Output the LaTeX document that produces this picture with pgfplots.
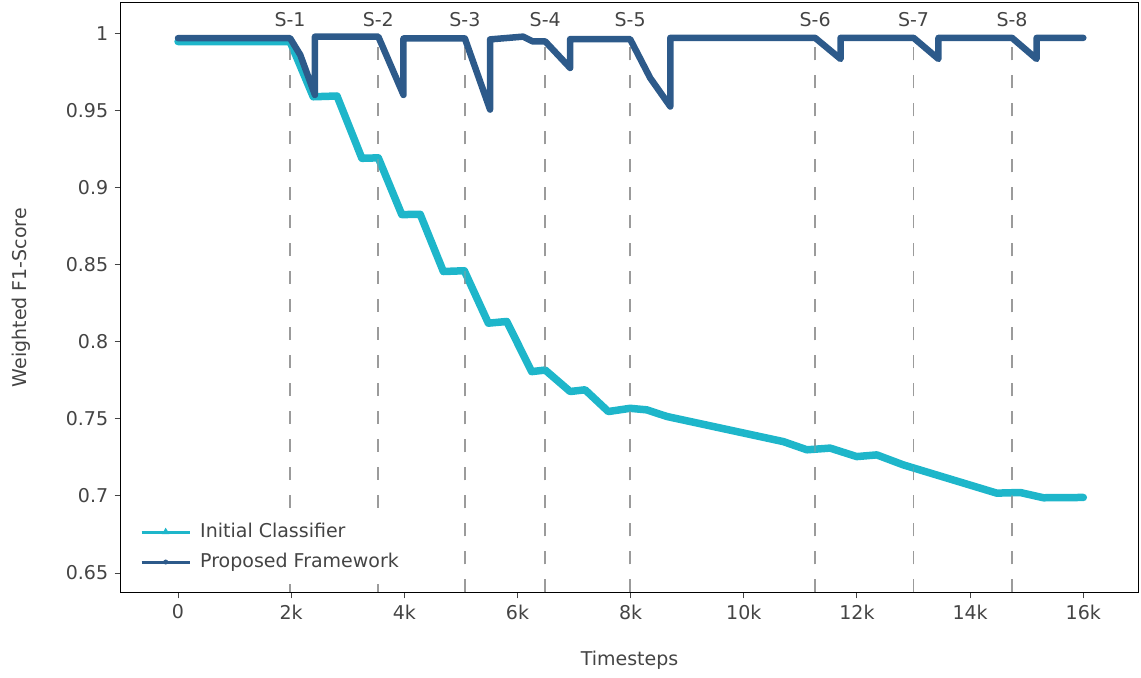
\documentclass[border=0pt]{standalone}
\usepackage{pgfplots}
\pgfplotsset{compat=1.18}
\usepackage{fontspec}
\setmainfont{DejaVu Sans}

\definecolor{icl}{RGB}{30,182,202}
\definecolor{pfw}{RGB}{45,90,138}
\definecolor{txt}{RGB}{68,68,68}
\definecolor{refl}{RGB}{155,155,155}

\begin{document}
\fontsize{19}{23}\selectfont
\begin{tikzpicture}
\begin{axis}[
  name=ax,
  scale only axis,
  width=1017.6pt, height=589.6pt,
  xmin=-1013, xmax=16972,
  ymin=0.6375, ymax=1.0198,
  axis line style={black, line width=1.3pt},
  scaled x ticks=false, scaled y ticks=false,
  xtick={0,2000,4000,6000,8000,10000,12000,14000,16000},
  xticklabels={0,2k,4k,6k,8k,10k,12k,14k,16k},
  ytick={0.65,0.7,0.75,0.8,0.85,0.9,0.95,1},
  yticklabels={0.65,0.7,0.75,0.8,0.85,0.9,0.95,1},
  tick align=outside, xtick pos=bottom, ytick pos=left,
  major tick length=6pt,
  tick style={txt, line width=1pt},
  ticklabel style={txt, font=\fontsize{19}{23}\selectfont},
  /pgf/number format/assume math mode=true,
  legend style={draw=none, fill=white, at={(rel axis cs:0.0111,0.0768)}, anchor=west,
    inner xsep=8pt, inner ysep=12pt, row sep=12pt, column sep=9pt,
    nodes={inner sep=0pt, text height=14pt, text depth=4pt, text=txt},
    font=\fontsize{19}{23}\selectfont},
  legend cell align=left,
  legend image code/.code={\draw[mark repeat=2,mark phase=2,#1] plot coordinates {(0pt,0pt)(24pt,0pt)(48pt,0pt)};},
  mshift/.style={refl, line width=1.8pt, dash pattern=on 13pt off 15pt, forget plot},
]

% legend samples
\addlegendimage{icl, line width=3pt, mark=triangle*, mark size=3.8pt, mark options={solid, fill=icl, draw=icl, line width=0.5pt}}
\addlegendentry{Initial Classifier}
\addlegendimage{pfw, line width=3pt, mark=*, mark size=2.2pt, mark options={solid, fill=pfw, draw=pfw, line width=0.5pt}}
\addlegendentry{Proposed Framework}

% scenario shift markers (the first two stop above the legend box)
\addplot[mshift] coordinates {(1980,0.6922) (1980,0.9925)};
\addplot[mshift] coordinates {(1980,0.6375) (1980,0.6430)};
\addplot[mshift] coordinates {(3540,0.6922) (3540,0.9925)};
\addplot[mshift] coordinates {(3540,0.6375) (3540,0.6430)};
\pgfplotsinvokeforeach{5070,6490,7990,11260,13000,14740}{
  \addplot[mshift] coordinates {(#1,0.6375) (#1,0.9925)};
}

% Initial Classifier
\addplot[icl, line width=7.5pt, line join=round, line cap=round, forget plot] coordinates {
  (0,0.9946) (1980,0.9946) (2390,0.9588) (2810,0.9593)
  (3250,0.9189) (3540,0.9192) (3955,0.8824) (4280,0.8826)
  (4690,0.8455) (5060,0.8460) (5485,0.8120) (5810,0.8131)
  (6250,0.7806) (6490,0.7816) (6930,0.7677) (7195,0.7688)
  (7605,0.7547) (7990,0.7568) (8285,0.7558) (8640,0.7515)
  (10700,0.7352) (11115,0.7299) (11525,0.7310) (11995,0.7255)
  (12350,0.7266) (12820,0.7201) (14470,0.7018) (14885,0.7022)
  (15295,0.6988) (16000,0.6990)
};

% Proposed Framework
\addplot[pfw, line width=6.5pt, line join=round, line cap=round, forget plot] coordinates {
  (0,0.9968) (1980,0.9968) (2160,0.9860) (2420,0.9600) (2420,0.9978)
  (3540,0.9978) (3985,0.9600) (3985,0.9966)
  (5070,0.9966) (5515,0.9505) (5515,0.9960) (6100,0.9978) (6270,0.9947) (6490,0.9947)
  (6930,0.9775) (6930,0.9962)
  (7990,0.9962) (8345,0.9710) (8700,0.9525) (8700,0.9970)
  (11260,0.9970) (11710,0.9833) (11710,0.9970)
  (13000,0.9970) (13440,0.9833) (13440,0.9970)
  (14740,0.9970) (15175,0.9833) (15175,0.9970) (16000,0.9970)
};

% faint overlay so the markers stay visible across the curves
\pgfplotsinvokeforeach{5070,6490,7990,11260,13000,14740}{
  \addplot[mshift, opacity=0.4] coordinates {(#1,0.6375) (#1,0.9900)};
}
\pgfplotsinvokeforeach{1980,3540}{
  \addplot[mshift, opacity=0.4] coordinates {(#1,0.6922) (#1,0.9900)};
}

\node[txt, inner sep=0pt] at (axis cs:1980,1.0086) {S-1};
\node[txt, inner sep=0pt] at (axis cs:3540,1.0086) {S-2};
\node[txt, inner sep=0pt] at (axis cs:5070,1.0086) {S-3};
\node[txt, inner sep=0pt] at (axis cs:6490,1.0086) {S-4};
\node[txt, inner sep=0pt] at (axis cs:7990,1.0086) {S-5};
\node[txt, inner sep=0pt] at (axis cs:11260,1.0086) {S-6};
\node[txt, inner sep=0pt] at (axis cs:13000,1.0086) {S-7};
\node[txt, inner sep=0pt] at (axis cs:14740,1.0086) {S-8};
\end{axis}

\node[txt, inner sep=0pt] at ([yshift=-67.7pt]ax.south) {Timesteps};
\node[txt, inner sep=0pt, rotate=90] at ([xshift=-99.7pt]ax.west) {Weighted F1-Score};

\pgfresetboundingbox
\path[use as bounding box] ([xshift=-120.7pt, yshift=-84.7pt]ax.south west) rectangle ([xshift=2.7pt, yshift=2.7pt]ax.north east);
\end{tikzpicture}
\end{document}
